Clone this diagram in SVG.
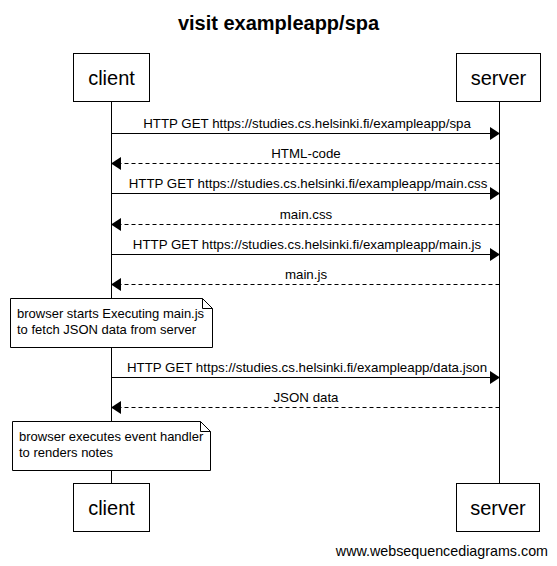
<svg xmlns="http://www.w3.org/2000/svg" width="557" height="566" viewBox="0 0 557 566">
<defs>
<style>
text{font-family:"Liberation Sans",Arial,sans-serif;fill:#000}
.title{font-size:20px;font-weight:bold;text-anchor:middle}
.actor{font-size:20px;text-anchor:middle}
.lbl{font-size:13.3px;text-anchor:middle}
.note{font-size:13px}
.wm{font-size:14.3px;text-anchor:end}
.box{fill:#fff;stroke:#000;stroke-width:1}
.life{stroke:#000;stroke-width:1;fill:none}
.msg{stroke:#000;stroke-width:1;fill:none}
.ret{stroke:#000;stroke-width:1;fill:none;stroke-dasharray:4,3}
.head{fill:#000}
</style>
</defs>
<rect width="557" height="566" fill="#fff"/>
<text class="title" x="278.5" y="30">visit exampleapp/spa</text>

<g id="lifelines">
<line class="life" x1="111.5" y1="101" x2="111.5" y2="483"/>
<line class="life" x1="499.5" y1="101" x2="499.5" y2="483"/>
</g>

<g id="client-top"><rect class="box" x="73.5" y="53.5" width="76" height="48"/><text class="actor" x="111.5" y="85">client</text></g>
<g id="server-top"><rect class="box" x="456.5" y="53.5" width="84" height="48"/><text class="actor" x="498.5" y="85">server</text></g>

<g id="connectors">
<line class="msg" x1="111.5" y1="133.5" x2="490" y2="133.5"/><polygon class="head" points="490,127 500,133.5 490,140"/>
<text class="lbl" x="307" y="128">HTTP GET https://studies.cs.helsinki.fi/exampleapp/spa</text>

<line class="ret" x1="499.5" y1="163.5" x2="121" y2="163.5"/><polygon class="head" points="121,157 111,163.5 121,170"/>
<text class="lbl" x="306" y="158">HTML-code</text>

<line class="msg" x1="111.5" y1="193.5" x2="490" y2="193.5"/><polygon class="head" points="490,187 500,193.5 490,200"/>
<text class="lbl" x="308" y="188">HTTP GET https://studies.cs.helsinki.fi/exampleapp/main.css</text>

<line class="ret" x1="499.5" y1="224.5" x2="121" y2="224.5"/><polygon class="head" points="121,218 111,224.5 121,231"/>
<text class="lbl" x="306" y="219">main.css</text>

<line class="msg" x1="111.5" y1="254.5" x2="490" y2="254.5"/><polygon class="head" points="490,248 500,254.5 490,261"/>
<text class="lbl" x="307" y="249">HTTP GET https://studies.cs.helsinki.fi/exampleapp/main.js</text>

<line class="ret" x1="499.5" y1="284.5" x2="121" y2="284.5"/><polygon class="head" points="121,278 111,284.5 121,291"/>
<text class="lbl" x="306" y="279">main.js</text>

<line class="msg" x1="111.5" y1="377.5" x2="490" y2="377.5"/><polygon class="head" points="490,371 500,377.5 490,384"/>
<text class="lbl" x="307" y="372">HTTP GET https://studies.cs.helsinki.fi/exampleapp/data.json</text>

<line class="ret" x1="499.5" y1="407.5" x2="121" y2="407.5"/><polygon class="head" points="121,401 111,407.5 121,414"/>
<text class="lbl" x="306" y="402">JSON data</text>
</g>

<g id="note1">
<path class="box" d="M10.5,298.5 H202.5 L212.5,308.5 V347.5 H10.5 Z"/>
<path class="life" d="M202.5,298.5 V308.5 H212.5"/>
<text class="note" x="17" y="318">browser starts Executing main.js</text>
<text class="note" x="17" y="334">to fetch JSON data from server</text>
</g>

<g id="note2">
<path class="box" d="M12.5,421.5 H200.5 L210.5,431.5 V470.5 H12.5 Z"/>
<path class="life" d="M200.5,421.5 V431.5 H210.5"/>
<text class="note" x="19" y="441">browser executes event handler</text>
<text class="note" x="19" y="457">to renders notes</text>
</g>

<g id="client-bottom"><rect class="box" x="73.5" y="483.5" width="76" height="48"/><text class="actor" x="111.5" y="515">client</text></g>
<g id="server-bottom"><rect class="box" x="456.5" y="483.5" width="83" height="48"/><text class="actor" x="498" y="515">server</text></g>

<text class="wm" x="548" y="556">www.websequencediagrams.com</text>
</svg>
